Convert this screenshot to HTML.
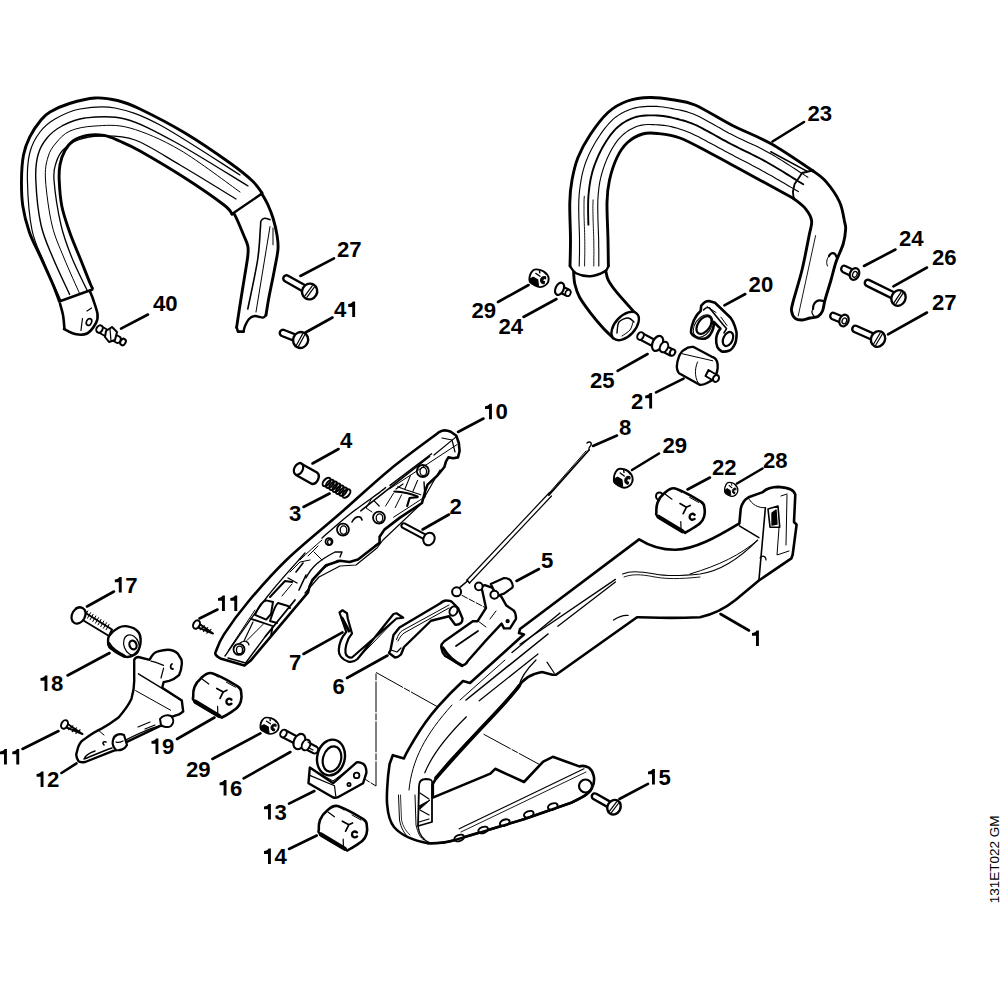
<!DOCTYPE html><html><head><meta charset="utf-8"><style>html,body{margin:0;padding:0;background:#fff;width:1000px;height:1000px;overflow:hidden}svg{display:block}text{font-family:"Liberation Sans",sans-serif;font-weight:bold;font-size:21.5px;fill:#000}.v{font-weight:normal;font-size:13.5px}</style></head><body>
<svg width="1000" height="1000" viewBox="0 0 1000 1000">
<g fill="none" stroke="#000" stroke-width="2.6" stroke-linecap="round">
<line x1="121.0" y1="328.6" x2="148.0" y2="314.5"/>
<line x1="300.4" y1="276.0" x2="334.0" y2="258.4"/>
<line x1="305.5" y1="332.5" x2="332.5" y2="317.5"/>
<line x1="772.5" y1="141.5" x2="804.0" y2="122.0"/>
<line x1="864.0" y1="266.0" x2="895.5" y2="249.5"/>
<line x1="893.4" y1="286.4" x2="927.0" y2="267.5"/>
<line x1="888.0" y1="334.4" x2="927.0" y2="312.5"/>
<line x1="724.4" y1="305.3" x2="745.3" y2="294.0"/>
<line x1="498.0" y1="302.0" x2="528.6" y2="285.0"/>
<line x1="523.5" y1="317.0" x2="556.5" y2="299.0"/>
<line x1="617.6" y1="370.8" x2="647.6" y2="354.0"/>
<line x1="656.0" y1="392.4" x2="683.6" y2="378.7"/>
<line x1="458.0" y1="432.0" x2="483.5" y2="418.5"/>
<line x1="593.0" y1="446.0" x2="617.0" y2="435.5"/>
<line x1="632.0" y1="470.0" x2="659.0" y2="453.5"/>
<line x1="687.5" y1="489.5" x2="710.0" y2="477.5"/>
<line x1="737.0" y1="483.5" x2="762.5" y2="468.5"/>
<line x1="312.5" y1="463.5" x2="338.6" y2="449.0"/>
<line x1="303.5" y1="507.0" x2="329.6" y2="493.5"/>
<line x1="422.6" y1="529.5" x2="449.0" y2="514.5"/>
<line x1="516.5" y1="581.0" x2="539.0" y2="569.0"/>
<line x1="87.0" y1="606.5" x2="114.0" y2="591.5"/>
<line x1="199.5" y1="618.5" x2="217.5" y2="609.5"/>
<line x1="303.5" y1="654.0" x2="342.5" y2="632.4"/>
<line x1="347.0" y1="678.0" x2="387.5" y2="655.5"/>
<line x1="720.5" y1="614.0" x2="749.0" y2="630.5"/>
<line x1="212.4" y1="759.0" x2="260.4" y2="733.3"/>
<line x1="243.6" y1="778.4" x2="290.4" y2="752.0"/>
<line x1="289.0" y1="803.6" x2="314.4" y2="791.0"/>
<line x1="289.0" y1="849.0" x2="316.8" y2="835.5"/>
<line x1="619.4" y1="799.0" x2="648.0" y2="783.8"/>
<line x1="177.0" y1="739.0" x2="214.5" y2="717.5"/>
<line x1="67.5" y1="675.5" x2="109.5" y2="653.0"/>
<line x1="22.5" y1="749.0" x2="58.5" y2="731.0"/>
<line x1="61.5" y1="773.0" x2="76.5" y2="763.4"/>
</g>
<g fill="none" stroke="#000" stroke-linecap="round" stroke-linejoin="round">
<path d="M59.2,300.9 C58.1,298.1 55.7,291.1 52.7,284.0 C49.7,276.9 44.9,266.7 41.0,258.0 C37.1,249.3 32.3,240.7 29.3,232.0 C26.3,223.3 24.1,214.7 22.8,206.0 C21.5,197.3 21.4,188.5 21.5,180.0 C21.6,171.5 22.1,162.2 23.5,155.0 C24.9,147.8 26.9,142.6 29.8,136.8 C32.7,131.0 37.6,124.1 41.0,120.0 C44.4,115.9 45.2,114.8 50.0,112.0 C54.8,109.2 62.0,105.8 69.5,103.5 C77.0,101.2 87.0,98.5 95.0,98.0 C103.0,97.5 110.0,98.7 117.5,100.5 C125.0,102.3 128.8,103.6 140.0,109.0 C151.2,114.4 170.0,124.0 185.0,133.0 C200.0,142.0 218.8,155.0 230.0,163.0 C241.2,171.0 247.2,176.0 252.5,181.0 C257.8,186.0 260.4,191.0 262.0,193.0" stroke-width="2.9" fill="none" />
<path d="M92.4,288.0 C92.1,287.3 92.5,289.0 90.4,284.0 C88.3,279.0 83.5,266.7 80.0,258.0 C76.5,249.3 72.6,240.7 69.6,232.0 C66.6,223.3 63.5,214.7 61.8,206.0 C60.1,197.3 59.5,186.9 59.2,180.0 C58.9,173.1 59.1,169.7 60.0,164.8 C60.9,159.9 62.6,154.8 64.8,150.8 C67.0,146.8 69.3,143.6 73.0,141.0 C76.7,138.4 81.8,136.3 87.0,135.4 C92.2,134.5 98.6,134.5 104.0,135.4 C109.4,136.3 113.4,138.4 119.4,141.0 C125.4,143.6 129.1,144.8 140.0,151.0 C150.9,157.2 171.0,169.0 185.0,178.0 C199.0,187.0 216.2,199.0 224.0,205.0 C231.8,211.0 230.7,212.5 232.0,214.0" stroke-width="2.9" fill="none" />
<path d="M232.0,214.0 L262.0,193.5" stroke-width="2.4" fill="none" />
<path d="M59.2,301.5 L92.4,289.5" stroke-width="2.4" fill="none" />
<path d="M60.5,299.6 C57.8,293.3 48.8,273.6 44.0,262.0 C39.2,250.4 34.8,243.7 32.0,230.0 C29.2,216.3 27.7,193.0 27.4,180.0 C27.1,167.0 27.9,160.0 30.0,152.0 C32.1,144.0 35.8,137.5 40.0,132.0 C44.2,126.5 48.3,122.8 55.0,119.0 C61.7,115.2 70.0,110.8 80.0,109.0 C90.0,107.2 101.7,105.3 115.0,108.0 C128.3,110.7 139.2,113.8 160.0,125.0 C180.8,136.2 226.7,166.7 240.0,175.0" stroke-width="1.2" fill="none" />
<path d="M69.6,294.4 C66.8,288.3 57.8,269.6 53.0,258.0 C48.2,246.4 43.9,238.0 41.0,225.0 C38.1,212.0 36.3,191.7 35.8,180.0 C35.3,168.3 36.1,162.0 38.0,155.0 C39.9,148.0 43.0,142.8 47.0,138.0 C51.0,133.2 55.7,129.3 62.0,126.0 C68.3,122.7 74.5,119.2 85.0,118.0 C95.5,116.8 110.0,115.0 125.0,119.0 C140.0,123.0 154.5,130.8 175.0,142.0 C195.5,153.2 235.8,178.7 248.0,186.0" stroke-width="1.4" fill="none" />
<path d="M80.0,294.4 C77.3,288.3 68.7,269.6 64.0,258.0 C59.3,246.4 55.1,238.0 52.0,225.0 C48.9,212.0 46.2,191.3 45.5,180.0 C44.8,168.7 46.2,163.2 48.0,157.0 C49.8,150.8 52.3,147.3 56.0,143.0 C59.7,138.7 63.5,133.8 70.0,131.0 C76.5,128.2 85.0,126.5 95.0,126.0 C105.0,125.5 115.8,124.0 130.0,128.0 C144.2,132.0 161.7,139.3 180.0,150.0 C198.3,160.7 230.0,185.0 240.0,192.0" stroke-width="1.0" fill="none" />
<path d="M87.2,290.5 C84.7,285.1 76.4,268.9 72.0,258.0 C67.6,247.1 64.0,238.0 61.0,225.0 C58.0,212.0 54.8,190.3 54.0,180.0 C53.2,169.7 54.5,168.0 56.0,163.0 C57.5,158.0 59.3,153.8 63.0,150.0 C66.7,146.2 71.8,142.3 78.0,140.0 C84.2,137.7 90.5,136.0 100.0,136.0 C109.5,136.0 121.7,135.2 135.0,140.0 C148.3,144.8 163.2,155.2 180.0,165.0 C196.8,174.8 226.7,193.3 236.0,199.0" stroke-width="1.3" fill="none" />
<path d="M60.0,303.5 C60.5,305.4 62.2,310.8 63.0,315.0 C63.8,319.2 64.2,326.7 64.5,329.0" stroke-width="2.6" fill="none" />
<path d="M64.0,329.0 C65.8,329.8 71.2,333.2 75.0,334.0 C78.8,334.8 83.5,335.3 87.0,333.5 C90.5,331.7 94.2,326.2 96.0,323.0 C97.8,319.8 98.0,318.0 97.5,314.0 C97.0,310.0 94.2,302.8 93.0,299.0 C91.8,295.2 90.5,292.8 90.0,291.5" stroke-width="2.6" fill="none" />
<ellipse cx="89" cy="322" rx="2.5" ry="3.5" transform="rotate(25 89 322)" stroke-width="1.6" fill="none"/>
<path d="M82.5,318.5 C82.2,320.5 81.2,328.5 81.0,330.5" stroke-width="1.2" fill="none" />
<path d="M87.0,311.0 C87.8,310.5 90.8,308.5 91.5,308.0" stroke-width="1.2" fill="none" />
<path d="M262.0,194.0 C263.0,195.8 266.2,201.0 268.0,205.0 C269.8,209.0 271.5,213.0 273.0,218.0 C274.5,223.0 276.2,229.8 277.0,235.0 C277.8,240.2 278.4,243.2 278.0,249.0 C277.6,254.8 275.9,261.8 274.4,270.0 C272.9,278.2 270.2,290.5 268.8,298.0 C267.4,305.5 266.5,312.2 266.0,315.0" stroke-width="2.9" fill="none" />
<path d="M266.0,315.0 C265.5,315.4 264.9,317.4 263.0,317.6 C261.1,317.8 257.1,315.8 254.8,316.0 C252.5,316.2 250.6,317.3 249.0,319.0 C247.4,320.7 245.9,323.9 245.0,326.0 C244.1,328.1 243.8,330.7 243.6,331.6" stroke-width="2.4" fill="none" />
<path d="M243.6,331.6 L238.0,331.6 L236.6,327.4" stroke-width="2.6" fill="none" />
<path d="M236.6,327.4 C237.2,323.7 238.6,313.9 240.0,305.0 C241.4,296.1 243.7,282.2 245.0,274.0 C246.3,265.8 247.3,260.7 247.8,256.0 C248.3,251.3 248.5,249.5 247.8,246.0 C247.1,242.5 245.7,240.1 243.6,235.0 C241.5,229.9 236.9,218.9 235.0,215.4 C233.1,211.9 232.5,214.2 232.0,214.0" stroke-width="2.9" fill="none" />
<path d="M247.8,309.0 C249.4,300.8 255.5,273.5 257.6,260.0 C259.7,246.5 259.8,234.5 260.4,228.0 C261.0,221.5 260.3,222.6 261.0,221.0 C261.7,219.4 263.1,218.4 264.6,218.2 C266.1,218.0 269.1,219.4 270.0,219.6" stroke-width="1.6" fill="none" />
<path d="M270.0,226.6 L256.0,312.0" stroke-width="1.0" fill="none" />
<path d="M273.0,228.0 L273.0,244.8" stroke-width="1.0" fill="none" />
<path d="M101,326 L120,337 A3,3.5 30 0 1 117,343 L98,332 Z" stroke-width="2" fill="#fff"/>
<ellipse cx="99.5" cy="329" rx="3" ry="3.8" transform="rotate(30 99.5 329)" stroke-width="2" fill="#fff"/>
<path d="M106,331 L112,327 L117,332 L115,340 L109,342 L105,337 Z" stroke-width="2" fill="#fff"/>
<path d="M110,329 L111,341" stroke-width="1.2" fill="none" />
<ellipse cx="123" cy="342" rx="2.6" ry="3.4" transform="rotate(30 123 342)" stroke-width="2" fill="#fff"/>
<path d="M303.8,292.0 L284.9,281.3 A3.2,3.2 0 0 1 288.1,275.7 L307.0,286.3" stroke-width="2.4" fill="#fff"/><ellipse cx="309.6" cy="291.5" rx="7.5" ry="8.0" transform="rotate(29.4 309.6 291.5)" stroke-width="2.4" fill="#fff"/><path d="M314.5,286.9 L306.8,297.3" stroke-width="1.2"/><path d="M312.4,285.7 L304.7,296.1" stroke-width="1.2"/>
<path d="M294.9,341.2 L281.8,336.0 A3.2,3.2 0 0 1 284.2,330.0 L297.3,335.2" stroke-width="2.4" fill="#fff"/><ellipse cx="300.6" cy="340.0" rx="7.5" ry="8.0" transform="rotate(21.7 300.6 340.0)" stroke-width="2.4" fill="#fff"/><path d="M304.8,334.8 L298.6,346.1" stroke-width="1.2"/><path d="M302.6,333.9 L296.4,345.2" stroke-width="1.2"/>
</g><g fill="none" stroke="#000" stroke-linecap="round" stroke-linejoin="round">
<path d="M570.0,266.0 C570.1,261.7 570.5,250.6 570.5,240.0 C570.5,229.4 569.5,212.5 569.8,202.5 C570.0,192.5 570.6,187.5 572.0,180.0 C573.4,172.5 575.0,165.0 578.0,157.5 C581.0,150.0 585.0,142.5 590.0,135.0 C595.0,127.5 601.8,118.2 608.0,112.5 C614.2,106.8 620.5,103.5 627.5,101.0 C634.5,98.5 642.5,97.7 650.0,97.5 C657.5,97.3 665.0,98.5 672.5,99.8 C680.0,101.0 685.0,100.7 695.0,105.0 C705.0,109.3 719.7,119.0 732.5,125.5 C745.3,132.0 758.3,136.5 771.6,144.0 C784.9,151.5 805.6,166.1 812.4,170.5" stroke-width="2.9" fill="none" />
<path d="M608.4,266.0 C608.3,261.7 608.2,250.6 608.0,240.0 C607.8,229.4 606.8,212.5 607.0,202.5 C607.2,192.5 607.8,187.5 609.5,180.0 C611.2,172.5 614.0,163.8 617.0,157.5 C620.0,151.2 623.2,146.4 627.5,142.5 C631.8,138.6 637.5,135.5 642.5,134.0 C647.5,132.5 651.2,132.8 657.5,133.5 C663.8,134.2 671.2,134.8 680.0,138.0 C688.8,141.2 699.8,147.7 710.0,153.0 C720.2,158.3 727.0,162.1 741.0,169.7 C755.0,177.3 784.9,193.8 793.7,198.6" stroke-width="2.9" fill="none" />
<path d="M812.4,170.5 L802.0,173.0 L798.8,178.0 L794.6,184.0 L792.9,191.8 L793.7,198.6" stroke-width="1.8" fill="none" />
<path d="M579.2,266.0 L579.3,262.9 L579.3,259.8 L579.4,256.6 L579.5,253.5 L579.5,250.4 L579.5,247.3 L579.5,244.1 L579.5,241.0 L579.5,237.9 L579.4,234.8 L579.3,231.7 L579.2,228.5 L579.1,225.4 L579.0,222.3 L578.9,219.2 L578.8,216.1 L578.8,212.9 L578.7,209.8 L578.7,206.7 L578.8,203.6 L578.8,200.5 L579.0,197.3 L579.2,194.2 L579.5,191.1 L579.9,188.0 L580.3,184.9 L580.8,181.9 L581.3,178.8 L581.9,175.7 L582.6,172.7 L583.4,169.7 L584.3,166.7 L585.2,163.7 L586.3,160.8 L587.5,157.9 L588.7,155.0 L590.0,152.2 L591.4,149.4 L592.9,146.7 L594.4,144.0 L596.0,141.3 L597.7,138.6 L599.4,136.0 L601.1,133.4 L602.9,130.9 L604.8,128.4 L606.8,126.0 L608.8,123.6 L611.0,121.4 L613.2,119.2 L615.6,117.2 L618.2,115.4 L620.8,113.7 L623.5,112.2 L626.3,110.9 L629.2,109.7 L632.2,108.7 L635.2,107.9 L638.2,107.3 L641.3,106.9 L644.4,106.6 L647.5,106.4 L650.6,106.4 L653.7,106.3 L656.8,106.4 L660.0,106.7 L663.1,107.0 L666.1,107.5 L669.2,108.0 L672.3,108.6 L675.3,109.2 L678.4,109.8 L681.4,110.4 L684.4,111.1 L687.4,111.9 L690.4,112.9 L693.3,114.0 L696.2,115.2 L699.0,116.5 L701.8,118.0 L704.5,119.4 L707.2,120.9 L710.0,122.5 L712.7,124.0 L715.4,125.5 L718.1,127.1 L720.8,128.6 L723.6,130.2 L726.3,131.7 L729.0,133.2 L731.8,134.6 L734.6,136.0 L737.4,137.4 L740.2,138.7 L743.0,140.0 L745.9,141.4 L748.7,142.7 L751.5,144.0 L754.4,145.3 L757.2,146.6 L760.0,148.0 L762.8,149.4 L765.5,150.9 L768.3,152.4 L771.0,153.9 L773.7,155.5 L776.4,157.1 L779.0,158.7 L781.7,160.4 L784.3,162.0 L786.9,163.7 L789.6,165.4 L792.2,167.1 L794.8,168.8 L797.4,170.5 L800.0,172.2 L802.7,173.9 L805.3,175.6 L807.9,177.2" stroke-width="1.1" fill="none" />
<path d="M588.4,224.6 L588.3,221.6 L588.2,218.7 L588.2,215.7 L588.1,212.7 L588.1,209.8 L588.1,206.8 L588.1,203.9 L588.2,200.9 L588.3,198.0 L588.5,195.0 L588.8,192.1 L589.1,189.1 L589.5,186.2 L589.9,183.3 L590.4,180.4 L591.0,177.5 L591.7,174.6 L592.4,171.7 L593.3,168.9 L594.2,166.1 L595.2,163.3 L596.3,160.6 L597.4,157.8 L598.6,155.2 L599.9,152.5 L601.2,149.9 L602.6,147.3 L604.1,144.7 L605.6,142.2 L607.2,139.7 L608.9,137.3 L610.6,134.9 L612.5,132.6 L614.4,130.3 L616.5,128.2 L618.7,126.2 L621.0,124.4 L623.4,122.7 L626.0,121.2 L628.6,119.8 L631.3,118.6 L634.0,117.6 L636.9,116.7 L639.7,116.1 L642.7,115.8 L645.6,115.5 L648.5,115.4 L651.5,115.4 L654.4,115.4 L657.4,115.5 L660.3,115.7 L663.2,116.0 L666.2,116.5 L669.1,117.0 L672.0,117.6 L674.8,118.3 L677.7,119.0 L680.5,119.8 L683.3,120.5 L686.2,121.4 L688.9,122.3 L691.7,123.3 L694.4,124.5 L697.1,125.7 L699.7,127.0 L702.4,128.4 L705.0,129.8 L707.6,131.2 L710.2,132.6 L712.8,134.0 L715.4,135.5 L717.9,136.9 L720.5,138.4 L723.1,139.8 L725.7,141.2 L728.3,142.6 L730.9,144.0 L733.6,145.4 L736.2,146.7 L738.8,148.0 L741.5,149.3 L744.2,150.6 L746.8,151.9 L749.5,153.2 L752.1,154.5 L754.8,155.8 L757.4,157.2 L760.1,158.5 L762.7,159.9 L765.3,161.3 L767.8,162.8 L770.4,164.3 L773.0,165.8 L775.5,167.3 L778.0,168.8 L780.6,170.3 L783.1,171.8 L785.6,173.4 L788.1,174.9 L790.7,176.5 L793.2,178.1 L795.7,179.6 L798.2,181.2 L800.7,182.7 L803.2,184.3" stroke-width="1.9" fill="none" />
<path d="M598.8,266.0 L598.8,263.2 L598.8,260.4 L598.8,257.6 L598.8,254.8 L598.8,252.0 L598.8,249.3 L598.7,246.5 L598.7,243.7 L598.7,240.9 L598.6,238.1 L598.5,235.3 L598.4,232.5 L598.3,229.7 L598.2,226.9 L598.1,224.1 L598.0,221.4 L597.9,218.6 L597.9,215.8 L597.8,213.0 L597.8,210.2 L597.7,207.4 L597.8,204.6 L597.8,201.8 L597.9,199.0 L598.1,196.3 L598.3,193.5 L598.6,190.7 L598.9,187.9 L599.3,185.2 L599.7,182.4 L600.3,179.7 L600.9,177.0 L601.6,174.3 L602.4,171.6 L603.2,169.0 L604.1,166.3 L605.0,163.7 L606.1,161.1 L607.1,158.5 L608.3,156.0 L609.5,153.5 L610.8,151.0 L612.1,148.6 L613.6,146.2 L615.1,143.9 L616.7,141.6 L618.4,139.4 L620.3,137.3 L622.3,135.4 L624.4,133.5 L626.6,131.9 L628.9,130.3 L631.3,128.9 L633.8,127.7 L636.4,126.6 L639.1,125.7 L641.8,125.1 L644.5,124.7 L647.3,124.5 L650.0,124.5 L652.8,124.6 L655.6,124.7 L658.4,124.9 L661.1,125.1 L663.9,125.4 L666.7,125.8 L669.4,126.3 L672.1,126.9 L674.8,127.6 L677.5,128.3 L680.1,129.2 L682.8,130.1 L685.4,131.0 L688.0,132.0 L690.5,133.1 L693.1,134.2 L695.6,135.4 L698.1,136.6 L700.6,137.9 L703.0,139.2 L705.5,140.5 L707.9,141.9 L710.4,143.2 L712.9,144.5 L715.3,145.8 L717.8,147.2 L720.2,148.5 L722.7,149.8 L725.1,151.2 L727.6,152.5 L730.0,153.8 L732.5,155.1 L735.0,156.4 L737.4,157.7 L739.9,159.0 L742.4,160.3 L744.9,161.5 L747.4,162.8 L749.8,164.1 L752.3,165.4 L754.8,166.7 L757.2,168.0 L759.7,169.3 L762.1,170.7 L764.6,172.0 L767.0,173.4 L769.4,174.8 L771.9,176.1 L774.3,177.5 L776.7,178.9 L779.1,180.3 L781.5,181.7 L783.9,183.1 L786.3,184.5 L788.7,185.9 L791.2,187.4 L793.6,188.8 L796.0,190.2 L798.4,191.6" stroke-width="1.1" fill="none" />
<path d="M584.6,266.0 L584.6,263.0 L584.7,259.9 L584.7,256.9 L584.8,253.9 L584.8,250.8 L584.8,247.8 L584.8,244.8 L584.8,241.8 L584.7,238.7 L584.7,235.7 L584.6,232.7 L584.5,229.6 L584.4,226.6 L584.3,223.6 L584.2,220.5 L584.1,217.5 L584.0,214.5 L584.0,211.5 L584.0,208.4 L584.0,205.4 L584.0,202.4 L584.1,199.3 L584.3,196.3" stroke-width="0.9" fill="none" />
<path d="M593.8,266.0 L593.8,263.1 L593.8,260.3 L593.8,257.4 L593.9,254.5 L593.9,251.6 L593.9,248.8 L593.8,245.9 L593.8,243.0 L593.8,240.1 L593.7,237.3 L593.6,234.4 L593.5,231.5 L593.4,228.6 L593.3,225.8 L593.2,222.9 L593.1,220.0 L593.0,217.1 L593.0,214.3 L592.9,211.4 L592.9,208.5 L592.9,205.6 L593.0,202.8 L593.1,199.9" stroke-width="0.9" fill="none" />
<path d="M770.8,151.8 L807.3,171.4" stroke-width="1.6" fill="none" />
<path d="M570.0,266.0 C571.0,267.2 572.6,271.5 576.0,273.2 C579.4,274.9 585.6,276.5 590.4,276.2 C595.2,275.9 601.8,273.1 604.8,271.4 C607.8,269.7 607.8,266.9 608.4,266.0" stroke-width="2.4" fill="none" />
<path d="M573.6,272.0 C573.8,274.0 573.8,279.8 574.8,284.0 C575.8,288.2 577.0,292.4 579.6,297.2 C582.2,302.0 586.6,307.8 590.4,312.8 C594.2,317.8 598.6,323.0 602.4,327.2 C606.2,331.4 611.4,336.2 613.2,338.0" stroke-width="2.9" fill="none" />
<path d="M606.0,272.0 C606.4,273.4 606.6,277.0 608.4,280.4 C610.2,283.8 612.2,286.8 616.8,292.4 C621.4,298.0 632.8,310.4 636.0,314.0" stroke-width="2.9" fill="none" />
<ellipse cx="625.2" cy="326" rx="17" ry="10" transform="rotate(-47 625.2 326)" stroke-width="2.4" fill="#fff"/>
<path d="M617.0,333.0 C617.3,331.2 617.2,324.5 619.0,322.0 C620.8,319.5 625.5,318.0 628.0,318.0 C630.5,318.0 633.0,321.3 634.0,322.0" stroke-width="1.4" fill="none" />
<path d="M622.0,336.0 C623.3,335.0 628.2,332.3 630.0,330.0 C631.8,327.7 632.5,323.3 633.0,322.0" stroke-width="1.0" fill="none" />
<path d="M812.4,170.5 C814.7,172.3 821.5,176.3 826.0,181.6 C830.5,186.8 836.5,195.2 839.6,202.0 C842.7,208.8 843.7,217.8 844.7,222.4 C845.7,227.0 845.9,226.0 845.6,229.6 C845.4,233.2 844.8,238.6 843.2,244.0 C841.6,249.4 838.0,256.0 836.0,262.0 C834.0,268.0 832.8,273.7 831.0,280.0 C829.2,286.3 826.4,294.8 825.0,300.0 C823.6,305.2 823.7,308.2 822.5,311.0 C821.3,313.8 820.1,315.3 818.0,316.5 C815.9,317.7 812.6,317.4 810.0,318.0 C807.4,318.6 804.9,319.9 802.4,320.0 C799.9,320.1 797.0,319.9 795.2,318.4 C793.4,316.9 792.0,313.8 791.6,311.2 C791.2,308.6 791.1,309.7 792.8,302.8 C794.5,295.9 799.3,281.1 802.0,270.0 C804.7,258.9 807.4,244.2 809.0,236.0 C810.6,227.8 812.2,225.2 811.6,220.7 C811.0,216.2 808.6,212.5 805.6,208.8 C802.6,205.1 795.7,200.3 793.7,198.6" stroke-width="2.9" fill="none" />
<path d="M815.6,235.6 L798.2,316.0" stroke-width="0.9" fill="none" />
<path d="M829,256 C831,252 835,252 836.5,257" stroke-width="2.2"/>
<path d="M829,256 C826.5,259 826,263 827.5,266" stroke-width="1.0"/>
<path d="M813,309 C813,302 818,299 823,301" stroke-width="2.2"/>
<path d="M813,309 C811.5,311 812,314 814,316" stroke-width="1.2"/>
<path d="M853.1,276.9 L842.6,271.9 A2.6,3.2 0 0 1 845.4,266.1 L855.9,271.1" stroke-width="2.2" fill="#fff"/><ellipse cx="854.5" cy="274.0" rx="4.5" ry="6.0" transform="rotate(25.5 854.5 274.0)" stroke-width="2.2" fill="#fff"/><ellipse cx="855.0" cy="274.2" rx="2.2" ry="3.0" transform="rotate(25.5 854.5 274.0)" stroke-width="1.3" fill="none"/>
<path d="M842.8,323.5 L831.8,319.0 A2.6,3.2 0 0 1 834.2,313.0 L845.2,317.5" stroke-width="2.2" fill="#fff"/><ellipse cx="844.0" cy="320.5" rx="4.5" ry="6.0" transform="rotate(22.2 844.0 320.5)" stroke-width="2.2" fill="#fff"/><ellipse cx="844.5" cy="320.7" rx="2.2" ry="3.0" transform="rotate(22.2 844.0 320.5)" stroke-width="1.3" fill="none"/>
<path d="M892.8,298.8 L866.6,285.9 A3.2,3.2 0 0 1 869.4,280.1 L895.6,293.0" stroke-width="2.4" fill="#fff"/><ellipse cx="898.5" cy="298.0" rx="7.0" ry="8.0" transform="rotate(26.2 898.5 298.0)" stroke-width="2.4" fill="#fff"/><path d="M903.1,293.1 L896.0,303.9" stroke-width="1.2"/><path d="M901.0,292.1 L893.9,302.9" stroke-width="1.2"/>
<path d="M872.3,340.0 L854.2,332.0 A3.2,3.2 0 0 1 856.8,326.0 L874.9,334.1" stroke-width="2.4" fill="#fff"/><ellipse cx="878.0" cy="339.0" rx="7.0" ry="8.0" transform="rotate(24.0 878.0 339.0)" stroke-width="2.4" fill="#fff"/><path d="M882.4,334.0 L875.8,345.0" stroke-width="1.2"/><path d="M880.2,333.0 L873.6,344.0" stroke-width="1.2"/>
<g transform="translate(539.0 278.0) scale(1.027 0.921)"><path d="M-4.5,-9.0 C-3.0,-9.4 -0.3,-9.1 1.5,-8.5 C3.3,-7.9 5.2,-6.8 6.5,-5.5 C7.8,-4.2 8.8,-2.6 9.2,-1.0 C9.6,0.6 9.5,2.5 9.0,4.0 C8.5,5.5 7.3,7.0 6.0,8.0 C4.7,9.0 2.7,9.8 1.0,9.8 C-0.7,9.8 -2.4,8.9 -4.0,8.0 C-5.6,7.1 -7.9,6.0 -8.8,4.5 C-9.7,3.0 -9.4,0.8 -9.2,-1.0 C-9.0,-2.8 -8.3,-4.7 -7.5,-6.0 C-6.7,-7.3 -6.0,-8.6 -4.5,-9.0Z" stroke-width="1.9" fill="#fff" /><path d="M-9,1.1 L-5.6,-0.8 L-1.3,1.8 L-0.6,8.2 L-4.2,7.5 L-8.9,3.7 Z" fill="#000" stroke="#000" stroke-width="1.2"/><path d="M6.5,-1.5 C4,-2.5 1.5,-0.5 1.5,2.5 C1.5,5 3,6.5 5,6.2 L5.5,4 C4,4 3.5,3 3.8,2 C4.2,0.5 5.5,0.5 6.5,1 Z" fill="#000" stroke="#000" stroke-width="1"/><path d="M-3,-5 L1,-2 M0.5,-7.5 L0.8,-5.5 M5,-6.5 L7,-4" stroke-width="1.4"/></g>
<path d="M561.0,285.9 L568.9,289.6 A2.6,3.2 0 0 1 566.1,295.4 L558.2,291.7" stroke-width="2.2" fill="#fff"/><ellipse cx="559.6" cy="288.8" rx="4.0" ry="6.5" transform="rotate(-154.9 559.6 288.8)" stroke-width="2.2" fill="#fff"/>
<ellipse cx="568" cy="293" rx="2.5" ry="3.2" transform="rotate(25 568 293)" stroke-width="1.6" fill="#fff"/>
</g><g fill="none" stroke="#000" stroke-linecap="round" stroke-linejoin="round">
<path d="M215.6,652.0 C217.0,649.1 218.6,642.7 224.0,634.4 C229.4,626.1 237.6,614.4 248.0,602.0 C258.4,589.6 271.1,574.8 286.4,560.0 C301.7,545.2 322.7,528.6 340.0,513.5 C357.3,498.4 373.4,483.0 390.0,469.4 C406.6,455.8 431.3,438.1 439.6,431.8 Q444.4,429 450.8,431.8 L456.4,435.8 L458.8,443 L459.6,451 L458,457.4 L453.2,458.2 L448.4,457.4 L446,461.4 L444.4,467 L437.2,475.8 L427.6,484.6 L425.2,491 L422,503 L400,517.6 L384.4,529.6 L379.6,536.8 L379.6,542.8 L374.8,546.4 L358,559.6 L349.6,562 L340,560.8 L325.6,565.6 L312.4,580 L309.5,586.5 L308,592.4 L250.4,660.8 L244.4,665.6 L220.4,658.4 Q214,655 215.6,652 Z" stroke-width="2.6" fill="#fff" />
<path d="M225.0,656.0 C232.0,646.2 253.7,614.2 267.0,597.0 C280.3,579.8 298.7,560.3 305.0,553.0" stroke-width="1.4" fill="none" />
<path d="M322.0,538.0 C326.7,534.0 340.4,521.6 350.0,514.0 C359.6,506.4 373.7,496.8 379.6,492.4 C385.5,488.0 384.6,488.4 385.6,487.6" stroke-width="1.4" fill="none" />
<path d="M390.0,485.4 L431.6,453.8" stroke-width="1.4" fill="none" />
<path d="M390.0,488.6 L457.0,444.6" stroke-width="1.0" fill="none" />
<path d="M434.0,455.0 L456.4,436.6" stroke-width="1.2" fill="none" />
<path d="M442.0,438.0 L452.0,440.0 L455.0,452.0" stroke-width="1.2" fill="none" />
<path d="M228.0,658.0 L245.6,663.0 L265.4,636.4" stroke-width="1.4" fill="none" />
<path d="M305.0,593.0 L319.0,577.0 L340.0,566.0 L356.0,565.0 L377.0,548.0 L383.0,540.0 L420.0,505.0 L440.0,470.0" stroke-width="1.2" fill="none" />
<circle cx="422.8" cy="471" r="6" stroke-width="1.8" fill="none"/>
<ellipse cx="423.3" cy="471.5" rx="3.3000000000000003" ry="4.199999999999999" stroke-width="1.3" fill="none"/>
<circle cx="379" cy="517.6" r="6" stroke-width="1.8" fill="none"/>
<ellipse cx="379.5" cy="518.1" rx="3.3000000000000003" ry="4.199999999999999" stroke-width="1.3" fill="none"/>
<circle cx="343" cy="529.6" r="6" stroke-width="1.8" fill="none"/>
<ellipse cx="343.5" cy="530.1" rx="3.3000000000000003" ry="4.199999999999999" stroke-width="1.3" fill="none"/>
<circle cx="239" cy="649.4" r="5.5" stroke-width="1.8" fill="none"/>
<ellipse cx="239.5" cy="649.9" rx="3.0250000000000004" ry="3.8499999999999996" stroke-width="1.3" fill="none"/>
<circle cx="329" cy="541.6" r="3.5" stroke-width="1.8" fill="none"/>
<ellipse cx="329.5" cy="542.1" rx="1.9250000000000003" ry="2.4499999999999997" stroke-width="1.3" fill="none"/>
<path d="M352,522 C355,516 361,515 362,520" stroke-width="1.6"/>
<path d="M394.4,491.6 C402,492 410,493.5 417.6,496.4" stroke-width="2.0" fill="none" />
<path d="M397.6,486.8 L406.4,490 L420.8,494.8" stroke-width="1.1" fill="none" />
<path d="M410.4,475.6 L404.8,489.2" stroke-width="1.1" fill="none" />
<path d="M417.6,480.4 L412.8,491.6" stroke-width="1.1" fill="none" />
<path d="M424,482 L425,497" stroke-width="1.4" fill="none" />
<path d="M407.2,506 L409.6,498 L417.6,497.2" stroke-width="2.2" fill="none" />
<path d="M393.6,493.2 L385.6,506" stroke-width="1.0" fill="none" />
<path d="M401.6,494.8 L395.2,507.6" stroke-width="1.0" fill="none" />
<path d="M423.2,498 L393.6,517.2" stroke-width="1.0" fill="none" />
<path d="M374.4,501.2 L379.2,506" stroke-width="1.2" fill="none" />
<path d="M372,498 L366,508 L372,512" stroke-width="1.0" fill="none" />
<path d="M360.8,510.8 L429.6,456.4" stroke-width="1.6" fill="none" />
<path d="M403,484 L396,489" stroke-width="1.2" fill="none" />
<path d="M306,578 C312,566 320,560 335,552 L342,552 L340,557" stroke-width="1.4" fill="none" />
<path d="M312,582 C318,572 326,566 338,560" stroke-width="1.0" fill="none" />
<path d="M303,563 L296,572 M299,590 L306,575" stroke-width="1.6" fill="none" />
<path d="M290,572 L300,562 L310,560" stroke-width="1.0" fill="none" />
<path d="M288,578 L297,583" stroke-width="1.4" fill="none" />
<path d="M318,546 L308,556 M314,552 L322,560" stroke-width="1.0" fill="none" />
<path d="M300,560 C308,552 315,546 322,540" stroke-width="1.0" fill="none" />
<path d="M255,614.8 C258,608 262,601 266.2,600.4 L273,602 L271,614 L266.2,619.6 Z" stroke-width="2.0" fill="none" />
<path d="M290,608 L288,606 L278,603 C275,605 273,612 270,621 L277,623" stroke-width="2.0" fill="none" />
<path d="M251,618.8 L272.6,626 L271,636" stroke-width="1.8" fill="none" />
<path d="M263,624.4 L247,640.4" stroke-width="1.0" fill="none" />
<path d="M253,622 L244,641" stroke-width="1.2" fill="none" />
<path d="M270,597 L285,581 L292,582" stroke-width="2.0" fill="none" />
<path d="M265.4,636.4 L295,600" stroke-width="1.8" fill="none" />
<path d="M282,596 L292,584" stroke-width="1.0" fill="none" />
<path d="M228.6,650 L255,610" stroke-width="1.0" fill="none" />
<path d="M240,643 C244,640 248,641 249,645" stroke-width="1.2" fill="none" />
<path d="M300,463 L317,472.5 A5,6.5 30 0 1 312,484 L296,475 Z" stroke-width="2.4" fill="#fff"/>
<ellipse cx="298.5" cy="469" rx="4.2" ry="6.2" transform="rotate(28 298.5 469)" stroke-width="2.2" fill="#fff"/>
<ellipse cx="326.6" cy="482.0" rx="2.9" ry="5.0" transform="rotate(42.4 326.6 482.0)" stroke-width="2.0" fill="none"/><ellipse cx="329.9" cy="483.9" rx="2.9" ry="5.0" transform="rotate(42.4 329.9 483.9)" stroke-width="2.0" fill="none"/><ellipse cx="333.2" cy="485.8" rx="2.9" ry="5.0" transform="rotate(42.4 333.2 485.8)" stroke-width="2.0" fill="none"/><ellipse cx="336.5" cy="487.8" rx="2.9" ry="5.0" transform="rotate(42.4 336.5 487.8)" stroke-width="2.0" fill="none"/><ellipse cx="339.8" cy="489.7" rx="2.9" ry="5.0" transform="rotate(42.4 339.8 489.7)" stroke-width="2.0" fill="none"/><ellipse cx="343.1" cy="491.6" rx="2.9" ry="5.0" transform="rotate(42.4 343.1 491.6)" stroke-width="2.0" fill="none"/><ellipse cx="346.4" cy="493.5" rx="2.9" ry="5.0" transform="rotate(42.4 346.4 493.5)" stroke-width="2.0" fill="none"/>
<path d="M424.4,539.3 L402.4,527.6 A2.4,2.4 0 0 1 404.6,523.4 L426.7,535.1" stroke-width="2.0" fill="#fff"/><ellipse cx="429.0" cy="539.0" rx="5.5" ry="6.5" transform="rotate(27.9 429.0 539.0)" stroke-width="2.0" fill="#fff"/>
<path d="M195.4,626.4 L213.0,633.5 L197.6,622.6 Z" stroke-width="2.0" fill="#fff"/><path d="M200.2,629.5 L204.4,625.8" stroke-width="1.2"/><path d="M203.5,631.3 L207.7,627.6" stroke-width="1.2"/><path d="M206.8,633.1 L211.0,629.4" stroke-width="1.2"/><ellipse cx="196.5" cy="624.5" rx="3.1" ry="4.5" transform="rotate(28.6 196.5 624.5)" stroke-width="2.0" fill="#fff"/>
<path d="M63.5,726.3 L82.5,734.0 L65.5,722.5 Z" stroke-width="2.0" fill="#fff"/><path d="M68.7,729.6 L72.9,725.9" stroke-width="1.2"/><path d="M72.3,731.5 L76.5,727.9" stroke-width="1.2"/><path d="M75.9,733.4 L80.1,729.8" stroke-width="1.2"/><ellipse cx="64.5" cy="724.4" rx="3.1" ry="4.5" transform="rotate(28.1 64.5 724.4)" stroke-width="2.0" fill="#fff"/>
</g><g fill="none" stroke="#000" stroke-linecap="round" stroke-linejoin="round">
<path d="M675.5,549.8 C660,550 648,545 639.1,539.4 L520,629 L519,633 L524,634.5 L521,637 L470,683 L463,681 C450,693 444,700 437.6,707.2 C428,718 420,730 414,740 C410,747 406,753 404,758.4 L392.8,755.2 L389.6,764 C387,780 386.5,800 387.2,805 C388,815 390,822 394,827 C400,834 410,840 428,843.2 C440,843.5 448,842 452,840.8 L524,819.2 L572,802.4 C585,796 590,793 592,788 C596,780 594,772 588.8,767.6 C585,765.5 582,765.5 579.2,766.4 L552.8,756.8 L543.2,761.6 L524,782 L495.2,768.8 L490.4,773.6 L432.8,797.6 L432.8,784 C440,770 460,750 492,716.8 C505,703 513,694 518,688 C522,680 530,674 542,672 L552.4,674.8 L556,674.8 L637,617.2 C650,617 660,619 700,617.2 C715,614 728,606 735.5,600 L758.9,580.5 L791.4,558.4 L792.7,554.5 L796.6,524.6 L794,522 L795.3,494.7 C794,490 790,488 778.4,486.9 C770,487 765,490 762.8,492.1 L748.5,497.3 C745,499 742,503 740.7,509 L739.4,523.3 C715,538 695,549 675.5,549.8 Z" stroke-width="2.6" fill="#fff" />
<path d="M436,778 C450,762 470,740 492,716.8 C505,703 513,694 519,686" stroke-width="3.6" fill="none" />
<path d="M519,686 C521,676 528,668 536,660" stroke-width="1.2" fill="none" />
<path d="M560.0,613.0 L512.0,652.5" stroke-width="1.4" fill="none" />
<path d="M548.0,634.0 L466.0,700.0" stroke-width="1.6" fill="none" />
<path d="M505.0,660.0 L460.0,700.0" stroke-width="1.0" fill="none" />
<path d="M615.4,579.4 L520,644.2" stroke-width="1.3" fill="none" />
<path d="M615.4,582 L557.8,626.2" stroke-width="1.3" fill="none" />
<path d="M622.6,574 C630,571 637,571 655,574 C670,577 690,575 700,574 C715,572 735,563 757.6,540.2" stroke-width="1.2" fill="none" />
<path d="M624,577 C632,574 640,574 655,577 C670,580 690,578 700,577" stroke-width="0.9" fill="none" />
<path d="M613.6,620 C618,617 623,615 628,615.4" stroke-width="1.4" fill="none" />
<path d="M547,662.2 L554.2,673" stroke-width="1.2" fill="none" />
<path d="M479.2,700.8 L538,654" stroke-width="1.2" fill="none" />
<path d="M424.8,772.8 C432,755 448,735 466.4,716.8" stroke-width="1.2" fill="none" />
<path d="M409,790 C412,760 425,735 452,705" stroke-width="1.0" fill="none" />
<path d="M739.4,525.9 L758.9,537.6" stroke-width="1.6" fill="none" />
<path d="M765.4,507.7 L758.9,580.5" stroke-width="1.6" fill="none" />
<path d="M757.6,540.2 C740,555 720,565 690,574" stroke-width="1.0" fill="none" />
<path d="M768.0,509.0 L778.0,506.0 L779.7,527.2 L770.0,527.2 L768.0,509.0" stroke-width="1.6" fill="none" />
<path d="M772,513 L776,510 L777,524 L772,525 Z" stroke-width="1.4" fill="#000" />
<path d="M781,496 L787,494 M787,495 L786,545 M779,528 L777,555 L789,551" stroke-width="1.0" fill="none" />
<path d="M748,497.3 C752,505 758,508 765.4,507.7" stroke-width="1.0" fill="none" />
<path d="M760,558 C762,555 766,556 766,560" stroke-width="1.2" fill="none" />
<path d="M459.2,828.8 L584,768.8" stroke-width="1.2" fill="none" />
<path d="M461,832 L586,772" stroke-width="0.9" fill="none" />
<circle cx="585.5" cy="786" r="6.5" stroke-width="2.2" fill="none"/>
<path d="M419,786 C419,781 422,779 426,779 L430,779.5 C432,780 432.5,782 432,785 L432,822 L418,826 Z" stroke-width="1.8" fill="none" />
<path d="M420,793 L429,799 M420,810 L429,815 M419,822 L429,819" stroke-width="1.2" fill="none" />
<path d="M419,806 L430,800 L420,809 Z" stroke-width="1.0" fill="#000" />
<path d="M398.5,795 L399.5,820 C401,828 404,833 408,837" stroke-width="1.0" fill="none" />
<path d="M400.5,795 L401.5,820 C403,827 406,831 410,835" stroke-width="0.8" fill="none" />
<path d="M415,795 L416,825 C418,833 420,838 424,840" stroke-width="1.0" fill="none" />
<path d="M418,826 C419,835 423,840 430,843" stroke-width="1.4" fill="none" />
<ellipse cx="459.2" cy="838" rx="5" ry="3" transform="rotate(-20 459.2 838)" stroke-width="2" fill="#fff"/>
<ellipse cx="483.2" cy="830" rx="5" ry="3" transform="rotate(-20 483.2 830)" stroke-width="2" fill="#fff"/>
<ellipse cx="504.8" cy="822.6" rx="5" ry="3" transform="rotate(-20 504.8 822.6)" stroke-width="2" fill="#fff"/>
<ellipse cx="528.8" cy="814.2" rx="5" ry="3" transform="rotate(-20 528.8 814.2)" stroke-width="2" fill="#fff"/>
<ellipse cx="552.8" cy="806.5" rx="5" ry="3" transform="rotate(-20 552.8 806.5)" stroke-width="2" fill="#fff"/>
<path d="M428,843.2 C440,843.5 448,842 452,840.8 L524,819.2 L572,802.4 C585,796 590,793 592,788" stroke-width="2.4" fill="none" />
<path d="M608.6,807.6 L593.3,799.0 A3.0,3.0 0 0 1 596.3,793.8 L611.5,802.4" stroke-width="2.4" fill="#fff"/><ellipse cx="614.0" cy="807.2" rx="6.5" ry="7.5" transform="rotate(29.4 614.0 807.2)" stroke-width="2.4" fill="#fff"/><path d="M618.7,803.0 L611.4,812.6" stroke-width="1.2"/><path d="M616.6,801.8 L609.3,811.4" stroke-width="1.2"/>
<path d="M437.6,706.8 L376,672.4 L376,786 L365.6,779.6" stroke-width="1.0" stroke-dasharray="30 2 6 2"/>
<path d="M484,734.4 L540,764.8" stroke-width="1.0" stroke-dasharray="30 2 6 2"/>
</g><g fill="none" stroke="#000" stroke-linecap="round" stroke-linejoin="round">
<g transform="translate(342.8 827.8) scale(1.0) translate(-342.8 -827.8)"><path d="M326.4,811.2 C329.0,809.1 332.1,804.8 337.6,806.0 C343.1,807.2 358.8,816.3 363.2,819.2 C367.6,822.1 366.3,823.3 366.8,825.6 C367.3,827.9 367.1,832.1 366.4,834.4 C365.7,836.7 365.0,838.5 362.4,840.8 C359.8,843.1 351.4,848.4 348.8,849.6 C346.2,850.8 349.0,851.1 344.8,848.8 C340.6,846.5 324.7,837.3 320.8,834.4 C316.9,831.5 318.9,831.8 318.8,829.6 C318.7,827.4 318.9,822.8 320.0,820.0 C321.1,817.2 323.8,813.3 326.4,811.2Z" stroke-width="2.6" fill="#fff" /><path d="M320.8,834.4 L344.8,848.8" stroke-width="4.2" fill="none" /><path d="M343.2,839.2 L343.4,846" stroke-width="1.2" fill="none" /><path d="M338,806.5 L344,810 M352,815 L361,820" stroke-width="1.0" fill="none" /><path d="M328,812 L334.4,816.8" stroke-width="1.2" fill="none" /><path d="M342.4,821.2 L348.8,824.8 L352.5,823 M348.8,824.8 L345.6,831.2" stroke-width="1.7" fill="none" /><path d="M357,832.5 C355,830.5 352,831.5 352,834.5 C352,837.5 355,838 357,836.5" stroke-width="2.4" fill="none" /></g>
<g transform="translate(217.2 695.0) scale(1.0) translate(-342.8 -827.8)"><path d="M326.4,811.2 C329.0,809.1 332.1,804.8 337.6,806.0 C343.1,807.2 358.8,816.3 363.2,819.2 C367.6,822.1 366.3,823.3 366.8,825.6 C367.3,827.9 367.1,832.1 366.4,834.4 C365.7,836.7 365.0,838.5 362.4,840.8 C359.8,843.1 351.4,848.4 348.8,849.6 C346.2,850.8 349.0,851.1 344.8,848.8 C340.6,846.5 324.7,837.3 320.8,834.4 C316.9,831.5 318.9,831.8 318.8,829.6 C318.7,827.4 318.9,822.8 320.0,820.0 C321.1,817.2 323.8,813.3 326.4,811.2Z" stroke-width="2.6" fill="#fff" /><path d="M320.8,834.4 L344.8,848.8" stroke-width="4.2" fill="none" /><path d="M343.2,839.2 L343.4,846" stroke-width="1.2" fill="none" /><path d="M338,806.5 L344,810 M352,815 L361,820" stroke-width="1.0" fill="none" /><path d="M328,812 L334.4,816.8" stroke-width="1.2" fill="none" /><path d="M342.4,821.2 L348.8,824.8 L352.5,823 M348.8,824.8 L345.6,831.2" stroke-width="1.7" fill="none" /><path d="M357,832.5 C355,830.5 352,831.5 352,834.5 C352,837.5 355,838 357,836.5" stroke-width="2.4" fill="none" /></g>
<g transform="translate(680.4 510.2) scale(1.0) translate(-342.8 -827.8)"><ellipse cx="321.8" cy="813.8" rx="3.4" ry="3.8" stroke-width="2" fill="#fff"/><path d="M326.4,811.2 C329.0,809.1 332.1,804.8 337.6,806.0 C343.1,807.2 358.8,816.3 363.2,819.2 C367.6,822.1 366.3,823.3 366.8,825.6 C367.3,827.9 367.1,832.1 366.4,834.4 C365.7,836.7 365.0,838.5 362.4,840.8 C359.8,843.1 351.4,848.4 348.8,849.6 C346.2,850.8 349.0,851.1 344.8,848.8 C340.6,846.5 324.7,837.3 320.8,834.4 C316.9,831.5 318.9,831.8 318.8,829.6 C318.7,827.4 318.9,822.8 320.0,820.0 C321.1,817.2 323.8,813.3 326.4,811.2Z" stroke-width="2.6" fill="#fff" /><path d="M320.8,834.4 L344.8,848.8" stroke-width="4.2" fill="none" /><path d="M343.2,839.2 L343.4,846" stroke-width="1.2" fill="none" /><path d="M338,806.5 L344,810 M352,815 L361,820" stroke-width="1.0" fill="none" /><path d="M328,812 L334.4,816.8" stroke-width="1.2" fill="none" /><path d="M342.4,821.2 L348.8,824.8 L352.5,823 M348.8,824.8 L345.6,831.2" stroke-width="1.7" fill="none" /><path d="M357,832.5 C355,830.5 352,831.5 352,834.5 C352,837.5 355,838 357,836.5" stroke-width="2.4" fill="none" /></g>
<path d="M684,350 C680,352 677,360 676.8,366.8 C677,371 679,374 680.4,374 L699.6,384.8 C703,385.5 710,382 714,378.8 C717,374 718,368 717.6,364 C717,360 715,358 712.8,357.2 L693.6,347 C690,346.5 687,347.5 684,350 Z" stroke-width="2.4" fill="#fff"/>
<path d="M681.6,353.6 L712.8,360.8" stroke-width="1.0" fill="none" />
<path d="M697.5,362 C694,370 695,380 699.6,384.8" stroke-width="1.0" fill="none" />
<path d="M708.5,370 L717,375 A3,3.5 30 0 1 714,381 L705.5,376 Z" stroke-width="2" fill="#fff"/>
<ellipse cx="716" cy="378.5" rx="2.8" ry="3.6" transform="rotate(30 716 378.5)" stroke-width="2" fill="#fff"/>
<path d="M109.4,635.5 C111.1,633.3 115.5,629.2 118.5,627.7 C121.5,626.2 124.3,625.8 127.6,626.4 C130.8,627.0 135.8,629.0 138.0,631.6 C140.2,634.2 140.8,638.5 140.6,642.0 C140.4,645.5 138.9,649.9 136.7,652.4 C134.5,654.9 130.4,656.8 127.6,657.0 C124.8,657.2 122.8,655.3 119.8,653.7 C116.8,652.1 111.4,649.4 109.4,647.2 C107.5,645.0 108.1,642.7 108.1,640.7 C108.1,638.8 107.7,637.7 109.4,635.5Z" stroke-width="2.4" fill="#fff" />
<path d="M109,644 C112,650 118,653 124,656" stroke-width="3.6" fill="none" />
<ellipse cx="131.5" cy="645" rx="7.5" ry="10.5" transform="rotate(-20 131.5 645)" stroke-width="1.2" fill="none"/>
<ellipse cx="133" cy="645" rx="3.5" ry="4.5" transform="rotate(-20 133 645)" stroke-width="2.2" fill="none"/>
<path d="M84,612 L112,629.5 L109,636 L81,619 Z" stroke-width="2" fill="#fff"/>
<path d="M84.8,616.5 L87.8,611.0" stroke-width="1.0" fill="none" />
<path d="M87.5,618.2 L90.5,612.7" stroke-width="1.0" fill="none" />
<path d="M90.1,619.8 L93.1,614.3" stroke-width="1.0" fill="none" />
<path d="M92.8,621.5 L95.8,616.0" stroke-width="1.0" fill="none" />
<path d="M95.5,623.2 L98.5,617.7" stroke-width="1.0" fill="none" />
<path d="M98.1,624.8 L101.1,619.3" stroke-width="1.0" fill="none" />
<path d="M100.8,626.5 L103.8,621.0" stroke-width="1.0" fill="none" />
<path d="M103.5,628.2 L106.5,622.7" stroke-width="1.0" fill="none" />
<path d="M106.1,629.8 L109.1,624.3" stroke-width="1.0" fill="none" />
<ellipse cx="78.5" cy="615.5" rx="6.5" ry="8.5" transform="rotate(30 78.5 615.5)" stroke-width="2.2" fill="#fff"/>
<path d="M76,608 C80,606 85,608 86,612" stroke-width="1.8" fill="none" />
<path d="M149.6,659.8 C152,655 155,652 158,651.4 C163,650 167,649.5 170.6,650 C175,651 178,653 179,655.6 C182,659 182,662 181.8,664 C181.5,669 180.5,672 179,675.2 C176,678 172,680 169.2,680.8 L163.6,682.2 L162.2,687.8 L181.8,700.4 L183.2,711.6 L179,714.4 L170.6,717.2 L172,722.8 L167.8,726.3 L160.8,725.6 L125.8,742.4 L124.4,748 L113.2,750.8 L85.2,762 C81,762.5 78.5,761.5 78.2,760.6 C76,757 76,754 76.8,752.2 C78,746 80,742 83.8,739.6 C90,735 96,731 102,728.4 C110,724 115,720 118.8,717.2 C125,710 129,704 131.4,699 C134,690 134.5,684 134.2,678 L134.2,659.8 C135,658 136.5,657 138.4,657 Z" stroke-width="2.4" fill="#fff" />
<path d="M138.4,673.8 L181.8,700.4" stroke-width="1.4" fill="none" />
<path d="M135.6,690.6 L170.6,710.2" stroke-width="1.0" fill="none" />
<path d="M151,661.2 C155,662 160,664 163.6,665.4 M163.6,668.2 L161,678" stroke-width="1.2" fill="none" />
<path d="M172,664 C170,665 170,669 173,669" stroke-width="1.8" fill="none" />
<path d="M160.8,725.6 C150,728 135,735 118,744" stroke-width="1.2" fill="none" />
<path d="M112,748 C100,752 90,757 84,759 M84,759 C86,754 92,752 95,751" stroke-width="1.4" fill="none" />
<path d="M138,727 L150,722 M145,729 L155,725" stroke-width="1.2" fill="none" />
<path d="M104,745 C102,743 103,741 106,742" stroke-width="1.6" fill="none" />
<path d="M98,730 L104,735" stroke-width="1.0" fill="none" />
<path d="M113,740 C114,735 119,733 124,735 L127,745 C125,749 120,751 116,750 C113,747 112,744 113,740 Z" stroke-width="2.2" fill="#fff"/>
<path d="M116,742 C118,743 121,742 123,741" stroke-width="1.2" fill="none" />
<path d="M160,719 C162,716 167,714 171,716 C174,719 174,723 171,726 C168,728 163,727 161,725 Z" stroke-width="2" fill="#fff"/>
<g transform="translate(623.2 478.0) scale(1.000 1.000)"><path d="M-4.5,-9.0 C-3.0,-9.4 -0.3,-9.1 1.5,-8.5 C3.3,-7.9 5.2,-6.8 6.5,-5.5 C7.8,-4.2 8.8,-2.6 9.2,-1.0 C9.6,0.6 9.5,2.5 9.0,4.0 C8.5,5.5 7.3,7.0 6.0,8.0 C4.7,9.0 2.7,9.8 1.0,9.8 C-0.7,9.8 -2.4,8.9 -4.0,8.0 C-5.6,7.1 -7.9,6.0 -8.8,4.5 C-9.7,3.0 -9.4,0.8 -9.2,-1.0 C-9.0,-2.8 -8.3,-4.7 -7.5,-6.0 C-6.7,-7.3 -6.0,-8.6 -4.5,-9.0Z" stroke-width="1.9" fill="#fff" /><path d="M-9,1.1 L-5.6,-0.8 L-1.3,1.8 L-0.6,8.2 L-4.2,7.5 L-8.9,3.7 Z" fill="#000" stroke="#000" stroke-width="1.2"/><path d="M6.5,-1.5 C4,-2.5 1.5,-0.5 1.5,2.5 C1.5,5 3,6.5 5,6.2 L5.5,4 C4,4 3.5,3 3.8,2 C4.2,0.5 5.5,0.5 6.5,1 Z" fill="#000" stroke="#000" stroke-width="1"/><path d="M-3,-5 L1,-2 M0.5,-7.5 L0.8,-5.5 M5,-6.5 L7,-4" stroke-width="1.4"/></g>
<g transform="translate(269.5 725.5) scale(0.973 0.868)"><path d="M-4.5,-9.0 C-3.0,-9.4 -0.3,-9.1 1.5,-8.5 C3.3,-7.9 5.2,-6.8 6.5,-5.5 C7.8,-4.2 8.8,-2.6 9.2,-1.0 C9.6,0.6 9.5,2.5 9.0,4.0 C8.5,5.5 7.3,7.0 6.0,8.0 C4.7,9.0 2.7,9.8 1.0,9.8 C-0.7,9.8 -2.4,8.9 -4.0,8.0 C-5.6,7.1 -7.9,6.0 -8.8,4.5 C-9.7,3.0 -9.4,0.8 -9.2,-1.0 C-9.0,-2.8 -8.3,-4.7 -7.5,-6.0 C-6.7,-7.3 -6.0,-8.6 -4.5,-9.0Z" stroke-width="1.9" fill="#fff" /><path d="M-9,1.1 L-5.6,-0.8 L-1.3,1.8 L-0.6,8.2 L-4.2,7.5 L-8.9,3.7 Z" fill="#000" stroke="#000" stroke-width="1.2"/><path d="M6.5,-1.5 C4,-2.5 1.5,-0.5 1.5,2.5 C1.5,5 3,6.5 5,6.2 L5.5,4 C4,4 3.5,3 3.8,2 C4.2,0.5 5.5,0.5 6.5,1 Z" fill="#000" stroke="#000" stroke-width="1"/><path d="M-3,-5 L1,-2 M0.5,-7.5 L0.8,-5.5 M5,-6.5 L7,-4" stroke-width="1.4"/></g>
<g transform="translate(731.2 489.2) scale(0.703 0.737)"><path d="M-4.5,-9.0 C-3.0,-9.4 -0.3,-9.1 1.5,-8.5 C3.3,-7.9 5.2,-6.8 6.5,-5.5 C7.8,-4.2 8.8,-2.6 9.2,-1.0 C9.6,0.6 9.5,2.5 9.0,4.0 C8.5,5.5 7.3,7.0 6.0,8.0 C4.7,9.0 2.7,9.8 1.0,9.8 C-0.7,9.8 -2.4,8.9 -4.0,8.0 C-5.6,7.1 -7.9,6.0 -8.8,4.5 C-9.7,3.0 -9.4,0.8 -9.2,-1.0 C-9.0,-2.8 -8.3,-4.7 -7.5,-6.0 C-6.7,-7.3 -6.0,-8.6 -4.5,-9.0Z" stroke-width="1.9" fill="#fff" /><path d="M-9,1.1 L-5.6,-0.8 L-1.3,1.8 L-0.6,8.2 L-4.2,7.5 L-8.9,3.7 Z" fill="#000" stroke="#000" stroke-width="1.2"/><path d="M6.5,-1.5 C4,-2.5 1.5,-0.5 1.5,2.5 C1.5,5 3,6.5 5,6.2 L5.5,4 C4,4 3.5,3 3.8,2 C4.2,0.5 5.5,0.5 6.5,1 Z" fill="#000" stroke="#000" stroke-width="1"/><path d="M-3,-5 L1,-2 M0.5,-7.5 L0.8,-5.5 M5,-6.5 L7,-4" stroke-width="1.4"/></g>
<path d="M285,730 L317,747 A3,3.5 30 0 1 313,753 L282,737 Z" stroke-width="2" fill="#fff"/>
<ellipse cx="283.5" cy="733.5" rx="3" ry="4" transform="rotate(30 283.5 733.5)" stroke-width="2" fill="#fff"/>
<ellipse cx="299.4" cy="741.6" rx="5.5" ry="8" transform="rotate(25 299.4 741.6)" stroke-width="2.2" fill="#fff"/>
<ellipse cx="306" cy="745" rx="4" ry="5.5" transform="rotate(25 306 745)" stroke-width="2" fill="#fff"/>
<path d="M308,742 L311,744 M309,748 L313,750" stroke-width="1.2" fill="none" />
<path d="M642,333 L673,349.5 A3,3.5 30 0 1 670,355.5 L639,339 Z" stroke-width="2" fill="#fff"/>
<ellipse cx="640.5" cy="336" rx="3" ry="4" transform="rotate(30 640.5 336)" stroke-width="2" fill="#fff"/>
<ellipse cx="657.6" cy="343.4" rx="5" ry="8" transform="rotate(25 657.6 343.4)" stroke-width="2.2" fill="#fff"/>
<ellipse cx="664" cy="347" rx="3.8" ry="5.5" transform="rotate(25 664 347)" stroke-width="2" fill="#fff"/>
<ellipse cx="672.5" cy="352.5" rx="2.6" ry="3.2" transform="rotate(30 672.5 352.5)" stroke-width="2" fill="#fff"/>
<ellipse cx="331" cy="757.5" rx="13.8" ry="18" transform="rotate(12 331 757.5)" stroke-width="2.4" fill="#fff"/>
<ellipse cx="332" cy="759" rx="9" ry="12.8" transform="rotate(15 332 759)" stroke-width="2.2" fill="none"/>
<path d="M309.8,767.6 L308.5,783.2 L333.2,797.5 C336,798 338,797.5 339.7,796.2 L363.1,783.2 L366.4,772.8 C366.5,768 365,765 363.1,763.7 C360,762 358,762 356.6,762.4 L333.2,783.2 L309.8,767.6 Z" stroke-width="2.4" fill="#fff" />
<path d="M309.8,775.4 L334.5,785.8 L335.8,796.2" stroke-width="1.2" fill="none" />
<path d="M312,769 L333,781 L355,764" stroke-width="1.0" fill="none" />
<circle cx="356.6" cy="775.4" r="2.8" stroke-width="1.8" fill="none"/>
<circle cx="349" cy="784.5" r="1.6" stroke-width="1.8" fill="none"/>
<path d="M587,443 C589,441 592,442 591,445 C590,447 588,448 589,450" stroke-width="1.4" fill="none" />
<path d="M589,450 L548.8,495.2" stroke-width="1.8" fill="none" />
<path d="M586,451 L550,492" stroke-width="1.0" fill="none" />
<path d="M549.5,492.5 L467,580" stroke-width="1.2" fill="none" />
<path d="M551.5,496 L469.5,583" stroke-width="1.2" fill="none" />
<path d="M467,580 L469.5,583" stroke-width="1.6" fill="none" />
<path d="M459.6,587.6 L467.5,581" stroke-width="1.6" fill="none" />
<circle cx="456.6" cy="591.8" r="4.5" stroke-width="2" fill="#fff"/>
<path d="M462,595.4 L486,608" stroke-width="1.0" stroke-dasharray="6 2"/>
<path d="M484.8,585.2 C481,586 481.5,589 482.4,591.2 L486,608 L477.6,621.2 L472.8,621.2 L444,641.6 C441,644 441,647 441.6,648.8 C442,652 443,654 445.2,656 L462,665.6 C465,665 467,663 468,660.8 L486,640.4 L501.6,623.6 L504,628.4 L510,628.4 L516,618.8 C516,614 515,612 513.6,610.4 L506.4,605.6 L501.6,597.2 L492,587.6 Z" stroke-width="2.4" fill="#fff" />
<path d="M443,648 C447,655 455,662 462,665.6" stroke-width="3.2" fill="none" />
<path d="M456,646 L478,631" stroke-width="1.8" fill="none" />
<path d="M478,621 L486,627 M490,619 L496,611" stroke-width="1.0" fill="none" />
<path d="M490.8,584 L504,578 C508,578 511,580 511.2,581.6 C513,584 513,586 512.4,587.6 L504,593.6 L496.8,596 Z" stroke-width="2.2" fill="#fff"/>
<circle cx="478.8" cy="586.4" r="3.8" stroke-width="2" fill="#fff"/>
<circle cx="494.4" cy="594.8" r="4" stroke-width="2" fill="#fff"/>
<circle cx="507.6" cy="621.2" r="1.3" stroke-width="1.6" fill="#000"/>
<path d="M390.5,650 L393.5,635 L399.5,627.5 L440,603.5 C443,601 445,600.5 446,600.5 C449,600.5 451,601 452,602 L458,608 L462.5,618.5 C462.5,621 462,622 461,623 C459,624.5 457,625 455,624.5 L449,616.25 L431,620.75 L404,647 L401,654.5 C399,656.5 397,657.5 395,657.5 L389,653 Z" stroke-width="2.4" fill="#fff" />
<path d="M396.5,639.5 C398,635 400,632 402.5,630.5 L449,605" stroke-width="1.0" fill="none" />
<path d="M398,641 C400,637 402,634 405,632.5 L449,608" stroke-width="1.0" fill="none" />
<path d="M391,650 L397,652 L401,648" stroke-width="1.2" fill="none" />
<ellipse cx="453.5" cy="611" rx="3.8" ry="4.8" transform="rotate(25 453.5 611)" stroke-width="2" fill="#fff"/>
<path d="M339.5,612.5 L342.5,610.25 L347,613.25 L347.75,618.5 L352,633.5 C346,640 345,650 345.5,653 C346,656 349,658 352,657.5 L396.5,618.5 L403.25,617.75 L396.5,613.25 L393.5,614 L357.5,659 C354,662 351,662.5 348,661.5 C342,659.5 338.5,655 338.75,650 C339,645 341,638 346.25,632 Z" stroke-width="2.2" fill="#fff" />
<path d="M342,618 L349,631" stroke-width="3.0" fill="none" />
<path d="M357.5,659 L396.5,618.5" stroke-width="1.0" fill="none" />
<path d="M701.2,305.8 C704,302 707,301 709,301 L715,302.8 L730.6,317.8 C733,321 734,324 734.8,326.2 C736,330 736.8,332 736.6,334 C736.5,339 736,342 734.8,344.2 C733,348 731,350 728.8,350.8 C726,351.8 724,351.8 721.6,351.4 C719.5,350 718,349 717.4,347.2 C716,344 716,341 716.2,338.2 C716.5,335 717.5,333 718.6,331 L720.4,328.6 L713.8,322 C714,326 713.5,330 710.2,334.6 C708,337.5 706,338.8 703,338.8 C699,339 697,338 695.8,337 C692,335 691,333.5 691,332 C691,328 692,325 694,320 C696,316 698,313 700.6,311 Z" stroke-width="2.6" fill="#fff" />
<path d="M703.5,310 C705.5,307.5 707.5,307 709.5,308 L723.4,325 L726.5,328.6 L724,333" stroke-width="1.6" fill="none" />
<path d="M707,306.5 L716,312.5 M721,317.2 L727,325.5" stroke-width="1.0" fill="none" />
<ellipse cx="704" cy="325" rx="10" ry="6" transform="rotate(-55 704 325)" stroke-width="2.2" fill="none"/>
<ellipse cx="703" cy="326" rx="12.5" ry="8" transform="rotate(-55 703 326)" stroke-width="1.0" fill="none"/>
<ellipse cx="728" cy="339" rx="7.5" ry="4.6" transform="rotate(-65 728 339)" stroke-width="2.2" fill="none"/>
</g>
<text transform="translate(153.00 311.20) scale(1.03 1)">4</text>
<text transform="translate(165.30 311.20) scale(1.03 1)">0</text>
<text transform="translate(337.00 256.60) scale(1.03 1)">2</text>
<text transform="translate(349.30 256.60) scale(1.03 1)">7</text>
<text transform="translate(334.00 317.20) scale(1.03 1)">4</text>
<path d="M4.0,0 L6.9,0 L6.9,-15.5 L4.6,-15.5 C3.9,-14.0 2.2,-13.1 0,-12.9 L0,-10.1 L4.0,-10.1 Z" transform="translate(348.20 317.00)" fill="#000"/>
<text transform="translate(807.50 121.10) scale(1.03 1)">2</text>
<text transform="translate(819.80 121.10) scale(1.03 1)">3</text>
<text transform="translate(899.00 245.60) scale(1.03 1)">2</text>
<text transform="translate(911.30 245.60) scale(1.03 1)">4</text>
<text transform="translate(932.00 264.60) scale(1.03 1)">2</text>
<text transform="translate(944.30 264.60) scale(1.03 1)">6</text>
<text transform="translate(932.00 310.10) scale(1.03 1)">2</text>
<text transform="translate(944.30 310.10) scale(1.03 1)">7</text>
<text transform="translate(748.60 291.60) scale(1.03 1)">2</text>
<text transform="translate(760.90 291.60) scale(1.03 1)">0</text>
<text transform="translate(471.50 317.60) scale(1.03 1)">2</text>
<text transform="translate(483.80 317.60) scale(1.03 1)">9</text>
<text transform="translate(498.50 334.10) scale(1.03 1)">2</text>
<text transform="translate(510.80 334.10) scale(1.03 1)">4</text>
<text transform="translate(590.00 387.60) scale(1.03 1)">2</text>
<text transform="translate(602.30 387.60) scale(1.03 1)">5</text>
<text transform="translate(631.00 408.60) scale(1.03 1)">2</text>
<path d="M4.0,0 L6.9,0 L6.9,-15.5 L4.6,-15.5 C3.9,-14.0 2.2,-13.1 0,-12.9 L0,-10.1 L4.0,-10.1 Z" transform="translate(645.20 408.40)" fill="#000"/>
<path d="M4.0,0 L6.9,0 L6.9,-15.5 L4.6,-15.5 C3.9,-14.0 2.2,-13.1 0,-12.9 L0,-10.1 L4.0,-10.1 Z" transform="translate(485.00 419.20)" fill="#000"/>
<text transform="translate(495.40 419.40) scale(1.03 1)">0</text>
<text transform="translate(619.00 434.60) scale(1.03 1)">8</text>
<text transform="translate(662.50 452.60) scale(1.03 1)">2</text>
<text transform="translate(674.80 452.60) scale(1.03 1)">9</text>
<text transform="translate(712.00 475.10) scale(1.03 1)">2</text>
<text transform="translate(724.30 475.10) scale(1.03 1)">2</text>
<text transform="translate(763.00 467.60) scale(1.03 1)">2</text>
<text transform="translate(775.30 467.60) scale(1.03 1)">8</text>
<text transform="translate(340.00 448.40) scale(1.03 1)">4</text>
<text transform="translate(289.00 520.80) scale(1.03 1)">3</text>
<text transform="translate(449.50 513.60) scale(1.03 1)">2</text>
<text transform="translate(541.00 568.10) scale(1.03 1)">5</text>
<path d="M4.0,0 L6.9,0 L6.9,-15.5 L4.6,-15.5 C3.9,-14.0 2.2,-13.1 0,-12.9 L0,-10.1 L4.0,-10.1 Z" transform="translate(114.80 592.40)" fill="#000"/>
<text transform="translate(125.20 592.60) scale(1.03 1)">7</text>
<path d="M4.0,0 L6.9,0 L6.9,-15.5 L4.6,-15.5 C3.9,-14.0 2.2,-13.1 0,-12.9 L0,-10.1 L4.0,-10.1 Z" transform="translate(218.00 610.90)" fill="#000"/>
<path d="M4.0,0 L6.9,0 L6.9,-15.5 L4.6,-15.5 C3.9,-14.0 2.2,-13.1 0,-12.9 L0,-10.1 L4.0,-10.1 Z" transform="translate(230.30 610.90)" fill="#000"/>
<path d="M4.0,0 L6.9,0 L6.9,-15.5 L4.6,-15.5 C3.9,-14.0 2.2,-13.1 0,-12.9 L0,-10.1 L4.0,-10.1 Z" transform="translate(40.50 690.90)" fill="#000"/>
<text transform="translate(50.90 691.10) scale(1.03 1)">8</text>
<text transform="translate(289.00 669.60) scale(1.03 1)">7</text>
<text transform="translate(332.60 693.60) scale(1.03 1)">6</text>
<path d="M4.0,0 L6.9,0 L6.9,-15.5 L4.6,-15.5 C3.9,-14.0 2.2,-13.1 0,-12.9 L0,-10.1 L4.0,-10.1 Z" transform="translate(752.00 645.90)" fill="#000"/>
<path d="M4.0,0 L6.9,0 L6.9,-15.5 L4.6,-15.5 C3.9,-14.0 2.2,-13.1 0,-12.9 L0,-10.1 L4.0,-10.1 Z" transform="translate(0.00 764.40)" fill="#000"/>
<path d="M4.0,0 L6.9,0 L6.9,-15.5 L4.6,-15.5 C3.9,-14.0 2.2,-13.1 0,-12.9 L0,-10.1 L4.0,-10.1 Z" transform="translate(12.30 764.40)" fill="#000"/>
<path d="M4.0,0 L6.9,0 L6.9,-15.5 L4.6,-15.5 C3.9,-14.0 2.2,-13.1 0,-12.9 L0,-10.1 L4.0,-10.1 Z" transform="translate(36.60 786.90)" fill="#000"/>
<text transform="translate(47.00 787.10) scale(1.03 1)">2</text>
<path d="M4.0,0 L6.9,0 L6.9,-15.5 L4.6,-15.5 C3.9,-14.0 2.2,-13.1 0,-12.9 L0,-10.1 L4.0,-10.1 Z" transform="translate(151.50 753.90)" fill="#000"/>
<text transform="translate(161.90 754.10) scale(1.03 1)">9</text>
<text transform="translate(186.00 776.60) scale(1.03 1)">2</text>
<text transform="translate(198.30 776.60) scale(1.03 1)">9</text>
<path d="M4.0,0 L6.9,0 L6.9,-15.5 L4.6,-15.5 C3.9,-14.0 2.2,-13.1 0,-12.9 L0,-10.1 L4.0,-10.1 Z" transform="translate(219.60 795.40)" fill="#000"/>
<text transform="translate(230.00 795.60) scale(1.03 1)">6</text>
<path d="M4.0,0 L6.9,0 L6.9,-15.5 L4.6,-15.5 C3.9,-14.0 2.2,-13.1 0,-12.9 L0,-10.1 L4.0,-10.1 Z" transform="translate(264.00 819.40)" fill="#000"/>
<text transform="translate(274.40 819.60) scale(1.03 1)">3</text>
<path d="M4.0,0 L6.9,0 L6.9,-15.5 L4.6,-15.5 C3.9,-14.0 2.2,-13.1 0,-12.9 L0,-10.1 L4.0,-10.1 Z" transform="translate(648.00 784.40)" fill="#000"/>
<text transform="translate(658.40 784.60) scale(1.03 1)">5</text>
<path d="M4.0,0 L6.9,0 L6.9,-15.5 L4.6,-15.5 C3.9,-14.0 2.2,-13.1 0,-12.9 L0,-10.1 L4.0,-10.1 Z" transform="translate(264.00 864.00)" fill="#000"/>
<text transform="translate(274.40 864.20) scale(1.03 1)">4</text>
<text class="v" transform="translate(999.3,903.2) rotate(-90)">131ET022 GM</text>
</svg></body></html>
